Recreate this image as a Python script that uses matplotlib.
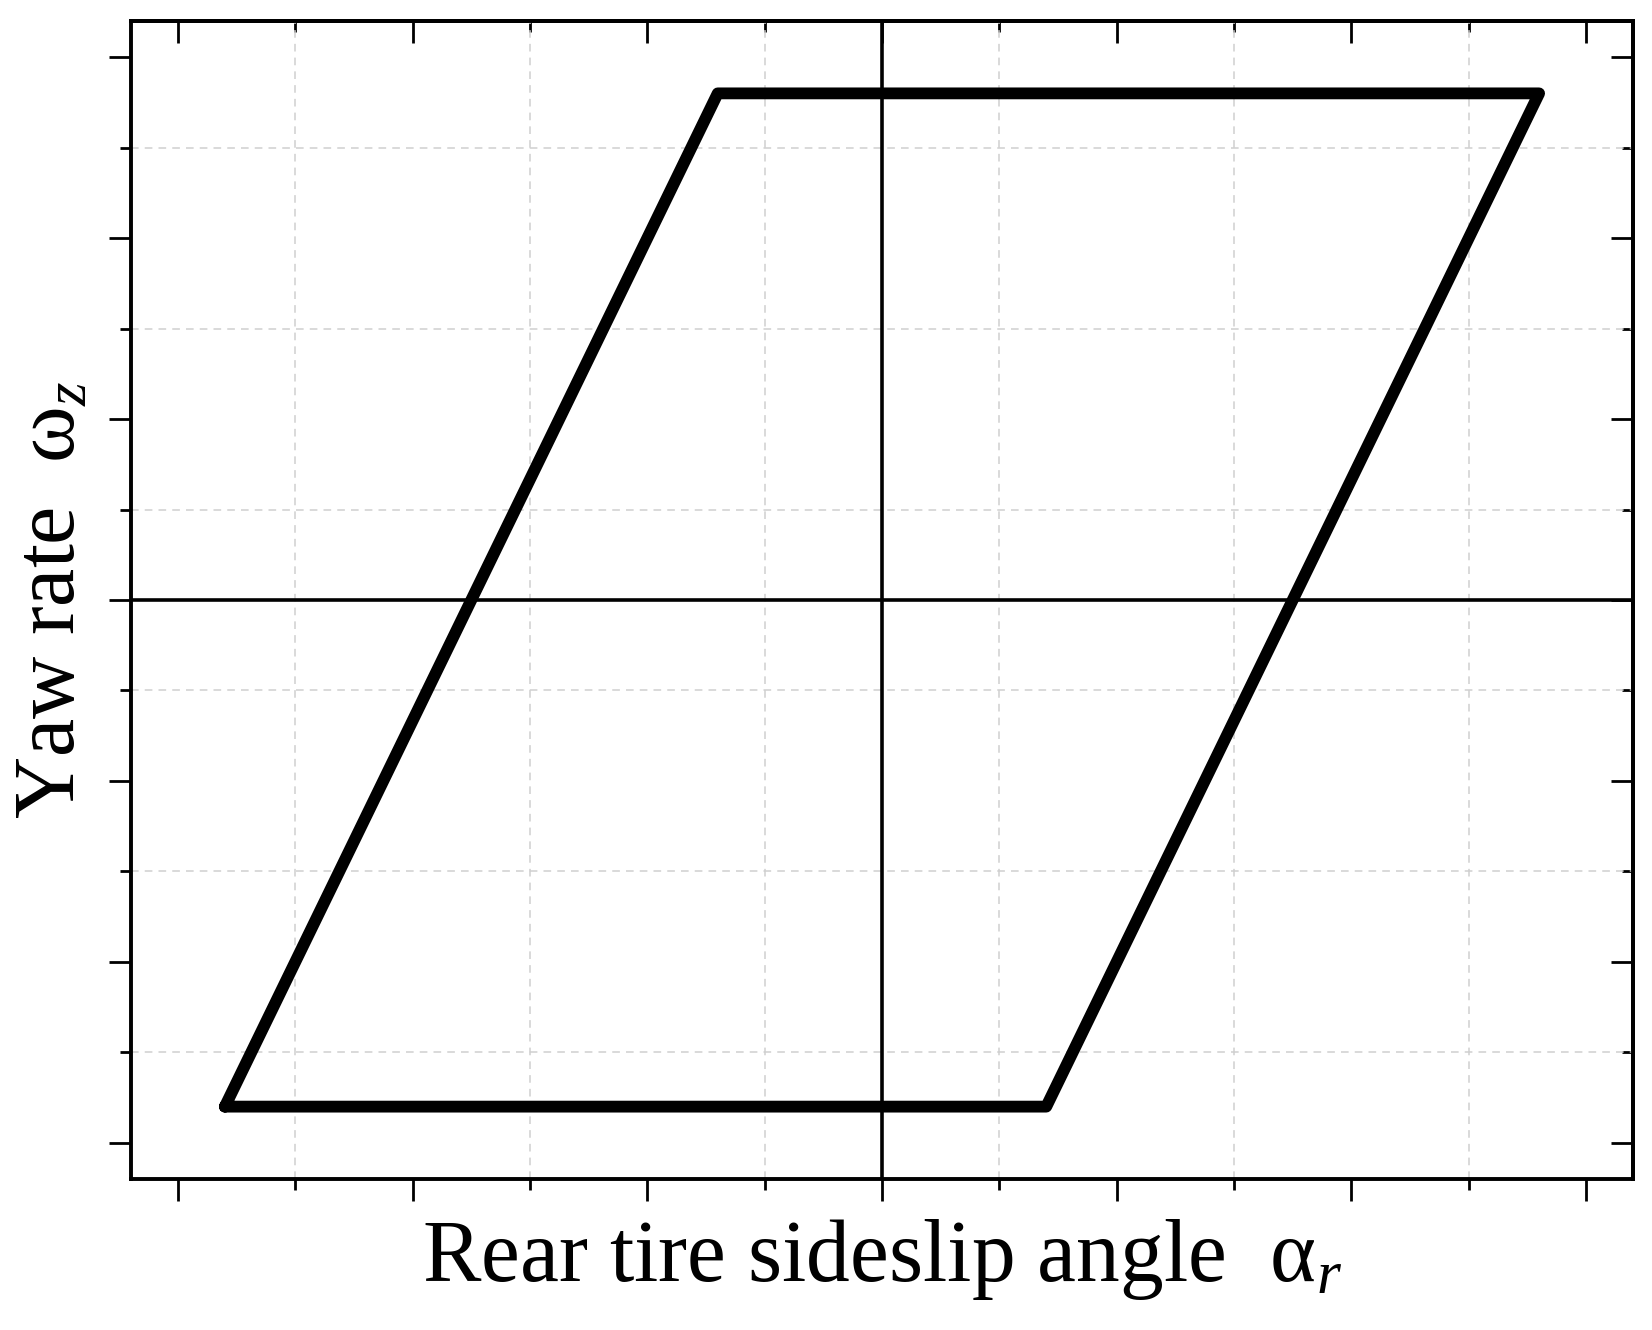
import matplotlib
matplotlib.use("Agg")
import matplotlib.pyplot as plt

# ---- data ----
alpha_r = [-5.6, 1.4, 5.6, -1.4, -5.6]       # rear tire sideslip angle (corners of loop)
omega_z = [-5.6, -5.6, 5.6, 5.6, -5.6]       # yaw rate
major_ticks = [-6, -4, -2, 0, 2, 4, 6]
minor_ticks = [-5, -3, -1, 1, 3, 5]
x_label = r"Rear tire sideslip angle  $\mathregular{\alpha}_{\mathit{r}}$"
y_label = r"Yaw rate  $\mathregular{\omega}_{\mathit{z}}$"

plt.rcParams["font.family"] = ["Liberation Serif", "DejaVu Serif"]
plt.rcParams["mathtext.fontset"] = "custom"
plt.rcParams["mathtext.rm"] = "DejaVu Serif"
plt.rcParams["mathtext.it"] = "Liberation Serif:italic"

fig = plt.figure(figsize=(16.52, 13.3), dpi=100)
ax = fig.add_axes([131 / 1652, 1 - 1179 / 1330, (1633 - 131) / 1652, (1179 - 21) / 1330])

ax.set_xlim(-6.4, 6.4)
ax.set_ylim(-6.4, 6.4)

# grid at minor positions
ax.set_xticks(major_ticks)
ax.set_yticks(major_ticks)
ax.set_xticks(minor_ticks, minor=True)
ax.set_yticks(minor_ticks, minor=True)
ax.set_xticklabels([])
ax.set_yticklabels([])
ax.grid(which="minor", color="#cfcfcf", linestyle=(0, (5, 4)), linewidth=1.1)
ax.grid(which="major", visible=False)

ax.tick_params(which="major", direction="out", length=15.8, width=2.0, color="black")
ax.tick_params(which="minor", direction="out", length=8.0, width=2.0, color="black")

for s in ax.spines.values():
    s.set_linewidth(2.8)

# top and right ticks pointing inward
secx = ax.secondary_xaxis("top")
secx.set_xticks(major_ticks)
secx.set_xticks(minor_ticks, minor=True)
secx.set_xticklabels([])
secx.tick_params(which="major", direction="in", length=15.8, width=2.0)
secx.tick_params(which="minor", direction="in", length=8.0, width=2.0)
secx.spines["top"].set_linewidth(2.8)

secy = ax.secondary_yaxis("right")
secy.set_yticks(major_ticks)
secy.set_yticks(minor_ticks, minor=True)
secy.set_yticklabels([])
secy.tick_params(which="major", direction="in", length=15.8, width=2.0)
secy.tick_params(which="minor", direction="in", length=8.0, width=2.0)
secy.spines["right"].set_linewidth(2.8)

ax.axhline(0, color="black", linewidth=2.6, zorder=2)
ax.axvline(0, color="black", linewidth=2.6, zorder=2)

ax.plot(alpha_r, omega_z, color="black", linewidth=8.5,
        solid_joinstyle="round", solid_capstyle="round", zorder=3)

ax.set_xlabel(x_label, fontsize=63)
ax.set_ylabel(y_label, fontsize=62)
ax.xaxis.set_label_coords(0.5, -0.033)
ax.yaxis.set_label_coords(-0.025, 0.5)

fig.savefig("out.png", dpi=100, facecolor="white")
